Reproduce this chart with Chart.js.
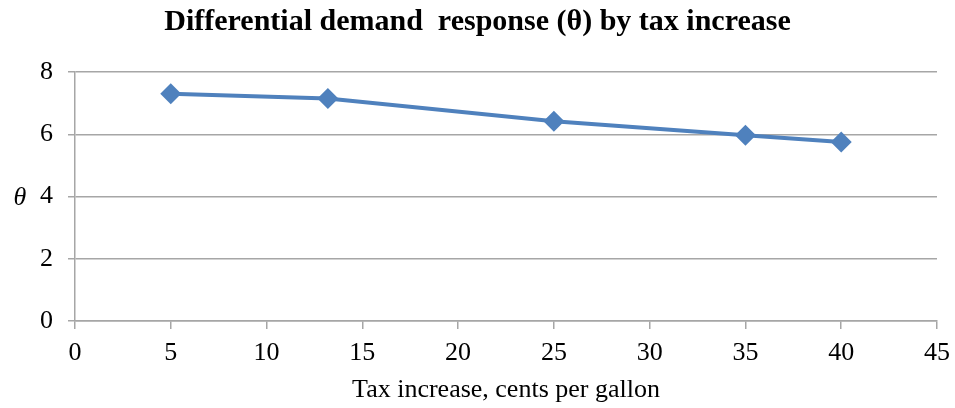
<!DOCTYPE html>
<html>
<head>
<meta charset="utf-8">
<script src="https://cdn.jsdelivr.net/npm/chart.js@4.4.0/dist/chart.umd.min.js"></script>
<style>
  html, body { margin: 0; padding: 0; background: #ffffff; }
  #wrap { width: 955px; height: 408px; position: relative; }
</style>
</head>
<body>
<div id="wrap"><canvas id="thetaChart"></canvas></div>
<script>
// Tax increase (cents per gallon) and the demand response at each level
var taxIncrease = [5, 13.2, 25, 35, 40];
var thetaValues = [7.3, 7.15, 6.42, 5.97, 5.75];
var xTicks = [0, 5, 10, 15, 20, 25, 30, 35, 40, 45];
var yTicks = [0, 2, 4, 6, 8];

var serif = '"Liberation Serif", "Times New Roman", serif';
var gridGray = '#a6a6a6';
var lineBlue = '#4f81bd';

// Draws the unrotated italic theta beside the y axis
var thetaLabel = {
  id: 'thetaLabel',
  afterDraw: function (chart) {
    var ctx = chart.ctx;
    var area = chart.chartArea;
    ctx.save();
    ctx.font = 'italic 26px ' + serif;
    ctx.fillStyle = '#000000';
    ctx.textAlign = 'center';
    ctx.textBaseline = 'middle';
    ctx.fillText('θ', 20, (area.top + area.bottom) / 2 + 2);
    ctx.restore();
  }
};

var ctx = document.getElementById('thetaChart').getContext('2d');
window.thetaChart = new Chart(ctx, {
  type: 'line',
  data: {
    datasets: [{
      label: 'θ',
      data: taxIncrease.map(function (x, i) { return { x: x, y: thetaValues[i] }; }),
      borderColor: lineBlue,
      backgroundColor: lineBlue,
      borderWidth: 4,
      pointStyle: 'rectRot',
      pointRadius: 10.5,
      pointHoverRadius: 10.5,
      pointBorderWidth: 0,
      tension: 0
    }]
  },
  options: {
    responsive: true,
    maintainAspectRatio: false,
    animation: false,
    layout: { padding: { left: 0, right: 0, top: 0, bottom: 4 } },
    plugins: {
      legend: { display: false },
      tooltip: { enabled: false },
      title: {
        display: true,
        text: 'Differential demand  response (θ) by tax increase',
        color: '#000000',
        font: { family: serif, size: 30, weight: 'bold' },
        padding: { top: 4, bottom: 32 }
      }
    },
    scales: {
      x: {
        type: 'linear',
        min: 0,
        max: 45,
        afterBuildTicks: function (scale) {
          scale.ticks = xTicks.map(function (v) { return { value: v }; });
        },
        afterFit: function (scale) {
          // fixed plot edges and a fixed band for the labels and axis title
          scale.paddingLeft = 0;
          scale.paddingRight = 18;
          scale.height = 83;
        },
        grid: {
          display: true,
          drawOnChartArea: false,
          drawTicks: true,
          tickLength: 8,
          color: gridGray,
          lineWidth: 1.5
        },
        border: { display: true, color: gridGray, width: 1.5 },
        ticks: {
          color: '#000000',
          font: { family: serif, size: 26, lineHeight: 1 },
          padding: 11,
          maxRotation: 0
        },
        title: {
          display: true,
          text: 'Tax increase, cents per gallon',
          color: '#000000',
          font: { family: serif, size: 26, lineHeight: 1 },
          padding: { top: 9, bottom: 1 }
        }
      },
      y: {
        type: 'linear',
        min: 0,
        max: 8,
        afterBuildTicks: function (scale) {
          scale.ticks = yTicks.map(function (v) { return { value: v }; });
        },
        afterFit: function (scale) {
          scale.width = 75;
        },
        grid: {
          display: true,
          drawTicks: true,
          tickLength: 7,
          color: gridGray,
          lineWidth: 1.5
        },
        border: { display: true, color: gridGray, width: 1.5 },
        ticks: {
          color: '#000000',
          font: { family: serif, size: 26 },
          padding: 15
        }
      }
    }
  },
  plugins: [thetaLabel]
});
</script>
</body>
</html>
